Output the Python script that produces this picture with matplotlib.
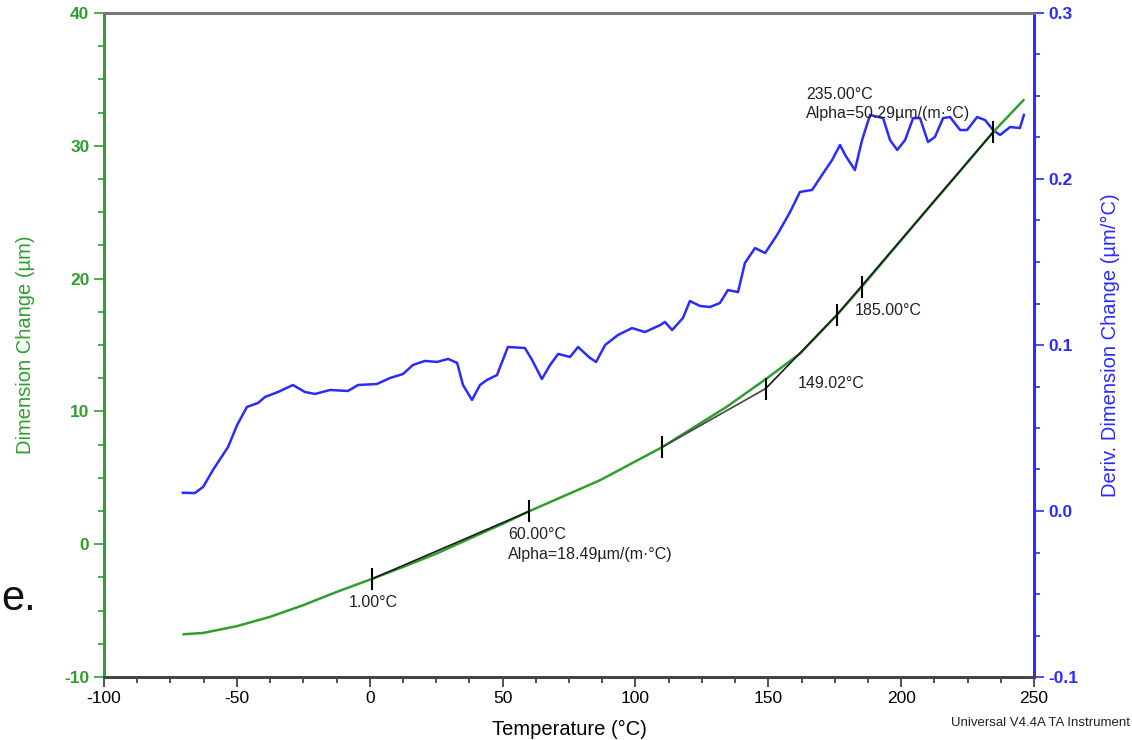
import matplotlib
matplotlib.use('Agg')
import matplotlib.pyplot as plt
from matplotlib.ticker import MultipleLocator, FormatStrFormatter

plt.rcParams['font.family'] = ['Liberation Sans', 'DejaVu Sans']
plt.rcParams['axes.unicode_minus'] = False

# dimension change curve (left axis)
temp_dim = [-70, -62.6, -50, -37.5, -25, -12.4, 1, 12.6, 25.2, 37.7, 50.3, 60,
            86.7, 110, 134.3, 149.4, 162, 175.7, 185.2, 197, 210, 222, 234.7, 246]
dim_change = [-6.78, -6.68, -6.17, -5.47, -4.59, -3.59, -2.6, -1.71, -0.70, 0.43, 1.56, 2.48,
              4.82, 7.3, 10.34, 12.48, 14.36, 17.24, 19.38, 22.18, 25.25, 28.05, 31.05, 33.43]

# derivative curve (right axis)
temp_deriv = [-70.3, -65.8, -62.7, -59.0, -53.3, -49.9, -46.2, -42.0, -39.4, -34.5, -28.9,
              -24.4, -20.6, -14.9, -8.2, -4.4, 2.7, 7.6, 12.5, 16.3, 20.8, 25.3, 29.5, 32.9,
              35.1, 38.5, 41.5, 44.1, 47.9, 52.0, 58.4, 61.1, 64.8, 67.9, 70.9, 75.4, 78.4,
              82.9, 85.2, 88.6, 93.4, 98.7, 103.6, 109.3, 111.1, 113.8, 117.9, 120.5, 124.3,
              128.1, 131.8, 134.8, 138.6, 141.2, 145.0, 148.8, 153.3, 158.2, 161.9, 166.5,
              170.2, 174.0, 177.0, 178.9, 182.6, 185.3, 188.3, 193.2, 195.8, 198.5, 201.5,
              204.5, 207.1, 210.1, 212.7, 215.8, 218.4, 222.2, 224.8, 228.6, 231.6, 234.6,
              237.2, 241.0, 244.7, 246.2]
deriv = [0.011, 0.0108, 0.0145, 0.0247, 0.0386, 0.0518, 0.0627, 0.0651, 0.0687, 0.0717, 0.0759,
         0.0717, 0.0705, 0.0729, 0.0723, 0.0759, 0.0765, 0.0801, 0.0825, 0.0880, 0.0904, 0.0898,
         0.0916, 0.0892, 0.0759, 0.0669, 0.0759, 0.0789, 0.0819, 0.0988, 0.0982, 0.0910, 0.0795,
         0.0880, 0.0946, 0.0928, 0.0988, 0.0922, 0.0898, 0.1000, 0.1060, 0.1102, 0.1078, 0.1120,
         0.1139, 0.1090, 0.1163, 0.1265, 0.1235, 0.1229, 0.1253, 0.1331, 0.1319, 0.1494, 0.1584,
         0.1554, 0.1663, 0.1801, 0.1922, 0.1934, 0.2024, 0.2114, 0.2205, 0.2145, 0.2054, 0.2235,
         0.2386, 0.2367, 0.2235, 0.2175, 0.2235, 0.2367, 0.2367, 0.2223, 0.2253, 0.2367, 0.2373,
         0.2295, 0.2295, 0.2373, 0.2355, 0.2295, 0.2265, 0.2313, 0.2307, 0.2386]

# analysis lines and markers
fit_low_t = [1, 60]
fit_low_d = [-2.6, 2.48]
onset_a_t = [110, 149.02]
onset_a_d = [7.3, 11.72]
onset_b_t = [149.02, 175.7]
onset_b_d = [11.72, 17.24]
fit_high_t = [175.7, 234.7]
fit_high_d = [17.24, 31.05]
mark_t = [1, 60, 110, 149.02, 175.7, 185.2, 234.7]
mark_d = [-2.6, 2.48, 7.3, 11.72, 17.24, 19.38, 31.05]

green = '#2f9f2f'
blue = '#2b2bff'

fig = plt.figure(figsize=(11.32, 7.40), dpi=100)
ax = fig.add_axes([104 / 1132, 1 - 677 / 740, 930 / 1132, 664 / 740])
ax2 = ax.twinx()
ax.set_zorder(ax2.get_zorder() + 1)
ax.patch.set_visible(False)

ax2.plot(temp_deriv, deriv, color=blue, lw=1.8)
ax.plot(temp_dim, dim_change, color=green, lw=1.8, zorder=2)
ax.plot(fit_low_t, fit_low_d, color='#1a1a1a', lw=1.2, zorder=3)
ax.plot(onset_a_t, onset_a_d, color='#444444', lw=1.2, zorder=3)
ax.plot(onset_b_t, onset_b_d, color='#1a1a1a', lw=1.2, zorder=3)
ax.plot(fit_high_t, fit_high_d, color='#1a1a1a', lw=1.2, zorder=3)
ax.plot(mark_t, mark_d, ls='none', marker='|', ms=16, mew=1.5, color='black', zorder=4)

ax.set_xlim(-100, 250)
ax.set_ylim(-10, 40)
ax2.set_ylim(-0.1, 0.3)

ax.xaxis.set_major_locator(MultipleLocator(50))
ax.xaxis.set_minor_locator(MultipleLocator(12.5))
ax.yaxis.set_major_locator(MultipleLocator(10))
ax.yaxis.set_minor_locator(MultipleLocator(2.5))
ax2.yaxis.set_major_locator(MultipleLocator(0.1))
ax2.yaxis.set_minor_locator(MultipleLocator(0.025))
ax2.yaxis.set_major_formatter(FormatStrFormatter('%.1f'))

ax.tick_params(axis='x', which='major', length=7, width=1.2, color='#333333',
               labelsize=12.5, pad=3)
ax.tick_params(axis='x', which='minor', length=4, width=1.2, color='#333333')
ax.tick_params(axis='y', which='major', length=7, width=1.2, color=green,
               labelcolor=green, labelsize=12.5)
ax.tick_params(axis='y', which='minor', length=4, width=1.2, color=green)
ax2.tick_params(axis='y', which='major', length=7, width=1.2, color=blue,
                labelcolor=blue, labelsize=12.5)
ax2.tick_params(axis='y', which='minor', length=4, width=1.2, color=blue)
for lab in ax.get_yticklabels() + ax2.get_yticklabels():
    lab.set_fontweight('bold')

for a in (ax, ax2):
    a.spines['left'].set_color(green)
    a.spines['left'].set_linewidth(2)
    a.spines['right'].set_color(blue)
    a.spines['right'].set_linewidth(2)
    a.spines['top'].set_color('#777777')
    a.spines['top'].set_linewidth(2)
    a.spines['bottom'].set_color('#444444')
    a.spines['bottom'].set_linewidth(2)

ax.set_xlabel('Temperature (°C)', fontsize=14.5, labelpad=10)
ax.set_ylabel('Dimension Change (µm)', fontsize=14.5, color=green)
ax2.set_ylabel('Deriv. Dimension Change (µm/°C)', fontsize=14.5, color=blue)
ax.yaxis.set_label_coords(-0.074, 0.5)
ax2.yaxis.set_label_coords(1.072, 0.5)

ann = dict(fontsize=11.5, color='#222222', zorder=5)
ax.text(-7.8, -4.4, '1.00°C', va='center', **ann)
ax.text(52, 0.7, '60.00°C', va='center', **ann)
ax.text(52, -0.8, 'Alpha=18.49µm/(m·°C)', va='center', **ann)
ax.text(161.2, 12.1, '149.02°C', va='center', **ann)
ax.text(182.6, 17.6, '185.00°C', va='center', **ann)
ax.text(164.2, 33.9, '235.00°C', va='center', **ann)
ax.text(164.2, 32.4, 'Alpha=50.29µm/(m·°C)', va='center', **ann)

fig.text(1130 / 1132, 1 - 723 / 740, 'Universal V4.4A TA Instrument', ha='right',
         va='center', fontsize=9.5, color='#222222')
fig.text(1 / 1132, 1 - 610 / 740, 'e.', ha='left', va='baseline', fontsize=30,
         color='#111111')

fig.savefig('out.png', dpi=100)
